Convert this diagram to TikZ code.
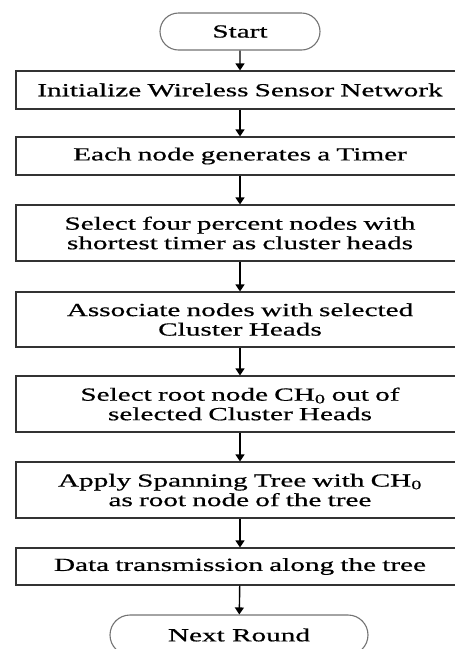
\documentclass[tikz,border=0pt]{standalone}
\usepackage{fontspec}
\setmainfont{Liberation Serif}[FakeStretch=1.58,FakeBold=0.6]
\usepackage{tikz}
\usetikzlibrary{
    arrows.meta,
    shapes.misc
}
\tikzset
{
  process/.style={draw=black!80,line width=1.2pt,fill=white,minimum width=448pt,text width=440pt,align=center,inner sep=0pt,font=\fontsize{18.5}{19.5}\selectfont},
  terminal/.style={draw=black!55,line width=1.1pt,fill=white,rounded rectangle,inner sep=0pt,font=\fontsize{18.5}{19.5}\selectfont},
  flow/.style={draw=black,line width=1.4pt,-{Triangle[length=7pt,width=9pt]}}
}

\begin{document}
\begin{tikzpicture}[x=1pt,y=-1pt]

    % Fix the frame to the size of the figure
    \useasboundingbox (0,0) rectangle (455,649);
    \clip (0,0) rectangle (455,649);

    % Draw the start terminal
    \node[terminal, minimum width=160pt, minimum height=37pt] (start) at (240,31.5) {Start};

    % Draw the process steps
    \node[process, minimum height=38pt] (init) at (240,90) {Initialize Wireless Sensor Network};
    \node[process, minimum height=38pt] (timer) at (240,156) {Each node generates a Timer};
    \node[process, minimum height=56pt] (heads) at (240,233) {Select four percent nodes with\\shortest timer as cluster heads};
    \node[process, minimum height=55pt] (assoc) at (240,319.5) {Associate nodes with selected\\Cluster Heads};
    \node[process, minimum height=56pt] (root) at (240,404) {Select root node CH\textsubscript{0} out of\\selected Cluster Heads};
    \node[process, minimum height=56pt] (tree) at (240,490) {Apply Spanning Tree with CH\textsubscript{0}\\as root node of the tree};
    \node[process, minimum height=37pt] (data) at (240,566.5) {Data transmission along the tree};

    % Draw the end terminal
    \node[terminal, minimum width=258pt, minimum height=40pt] (next) at (239,635) {Next Round};

    % Draw the arrows between the steps
    \draw[flow] (start) -- (init);
    \draw[flow] (init) -- (timer);
    \draw[flow] (timer) -- (heads);
    \draw[flow] (heads) -- (assoc);
    \draw[flow] (assoc) -- (root);
    \draw[flow] (root) -- (tree);
    \draw[flow] (tree) -- (data);
    \draw[flow] (data) -- (next);

\end{tikzpicture}
\end{document}
